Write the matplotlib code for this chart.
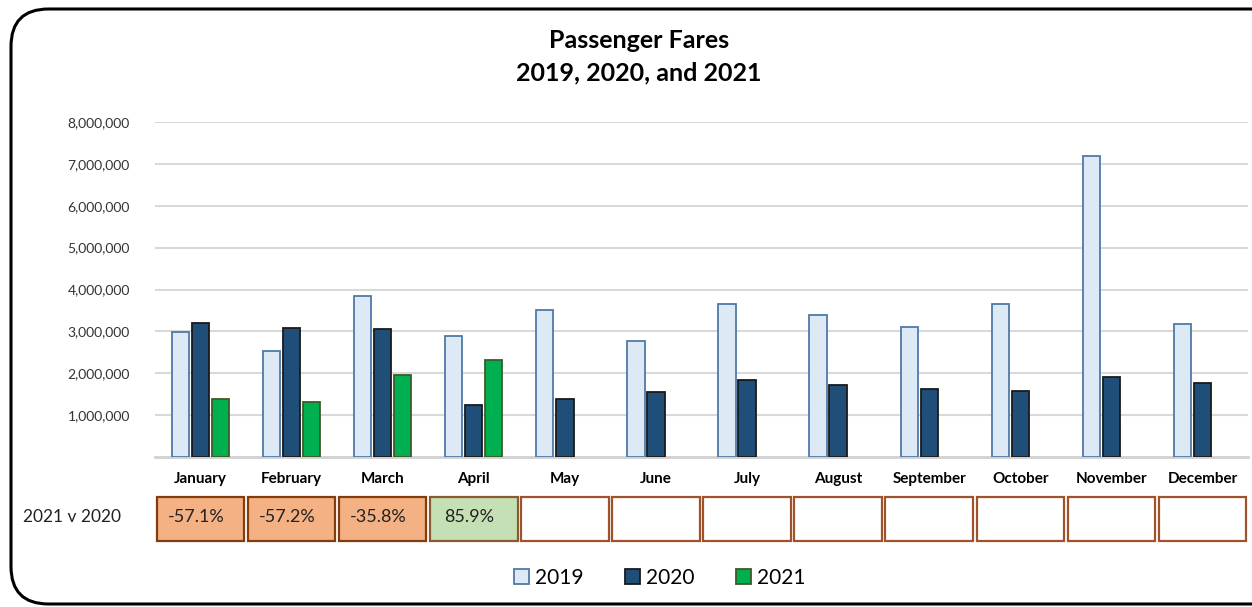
import matplotlib
matplotlib.use("Agg")
import matplotlib.pyplot as plt
from matplotlib.patches import FancyBboxPatch, Rectangle
from matplotlib.ticker import FuncFormatter
import numpy as np

months = ["January", "February", "March", "April", "May", "June", "July",
          "August", "September", "October", "November", "December"]
fares_2019 = [2980000, 2540000, 3850000, 2890000, 3510000, 2770000, 3650000,
              3390000, 3100000, 3650000, 7200000, 3180000]
fares_2020 = [3200000, 3080000, 3050000, 1250000, 1380000, 1550000, 1840000,
              1720000, 1620000, 1580000, 1910000, 1760000]
fares_2021 = [1380000, 1310000, 1960000, 2320000]
change_labels = ["-57.1%", "-57.2%", "-35.8%", "85.9%", "", "", "", "", "", "", "", ""]
y_ticks = [1000000, 2000000, 3000000, 4000000, 5000000, 6000000, 7000000, 8000000]

plt.rcParams['font.family'] = ['Lato', 'DejaVu Sans']

W, H = 1252, 607
fig = plt.figure(figsize=(W / 100, H / 100), dpi=100)

# rounded outer border (right side runs off the image)
border = FancyBboxPatch((11 / W, 1 - 604 / H), (1320 - 11) / W, (604 - 9) / H,
                        boxstyle="round,pad=0,rounding_size=0.03",
                        transform=fig.transFigure, facecolor="none",
                        edgecolor="black", linewidth=2.2, clip_on=False,
                        mutation_aspect=W / H)
fig.patches.append(border)

ax = fig.add_axes([155 / W, 1 - 457 / H, (1248 - 155) / W, (457 - 122) / H])
x = np.arange(len(months))
bw = 0.19
off = 0.22
ax.bar(x - off, fares_2019, bw, color="#dde9f5", edgecolor="#4f7aa8", linewidth=1.3, label="2019", zorder=3)
ax.bar(x, fares_2020, bw, color="#1f4e79", edgecolor="#1a1a1a", linewidth=1.3, label="2020", zorder=3)
ax.bar(x[:len(fares_2021)] + off, fares_2021, bw, color="#00b050", edgecolor="#3d5a2a", linewidth=1.3, label="2021", zorder=3)

ax.set_xlim(-0.5, len(months) - 0.5)
ax.set_ylim(0, 8000000)
ax.set_yticks(y_ticks)
ax.yaxis.set_major_formatter(FuncFormatter(lambda v, p: f"{int(v):,}"))
ax.tick_params(axis="y", length=0, pad=18, labelsize=10, labelcolor="#333333")
ax.set_xticks(x)
ax.set_xticklabels(months, fontsize=11, fontweight="bold")
ax.tick_params(axis="x", length=0, pad=11)
ax.grid(axis="y", color="#d9d9d9", linewidth=1.5, zorder=0)
for s in ["top", "right", "left"]:
    ax.spines[s].set_visible(False)
ax.spines["bottom"].set_color("#d0d0d0")
ax.spines["bottom"].set_linewidth(2)

fig.text(639 / W, 1 - 40 / H, "Passenger Fares", ha="center", va="center", fontsize=18, fontweight="bold")
fig.text(639 / W, 1 - 73 / H, "2019, 2020, and 2021", ha="center", va="center", fontsize=18, fontweight="bold")

# comparison row
row = fig.add_axes([155 / W, 1 - 543 / H, (1248 - 155) / W, (543 - 495) / H])
row.set_xlim(-0.5, len(months) - 0.5)
row.set_ylim(0, 1)
row.axis("off")
for i, lab in enumerate(change_labels):
    if lab.startswith("-"):
        fc, ec = "#f4b183", "#843c0c"
    elif lab:
        fc, ec = "#c5e0b4", "#8a5a30"
    else:
        fc, ec = "white", "#a0522d"
    row.add_patch(Rectangle((i - 0.48, 0.04), 0.96, 0.92, facecolor=fc, edgecolor=ec, linewidth=1.6, clip_on=False))
    if lab:
        row.text(i - 0.05, 0.55, lab, ha="center", va="center", fontsize=13, color="#222222")
fig.text(72 / W, 1 - 517 / H, "2021 v 2020", ha="center", va="center", fontsize=12.5, color="#222222")

leg = fig.legend(loc="center", bbox_to_anchor=(660 / W, 1 - 578 / H), ncol=3, frameon=False,
                 fontsize=15, handlelength=0.7, handleheight=0.7, handletextpad=0.3, columnspacing=2.0)

fig.savefig("out.png", dpi=100)
